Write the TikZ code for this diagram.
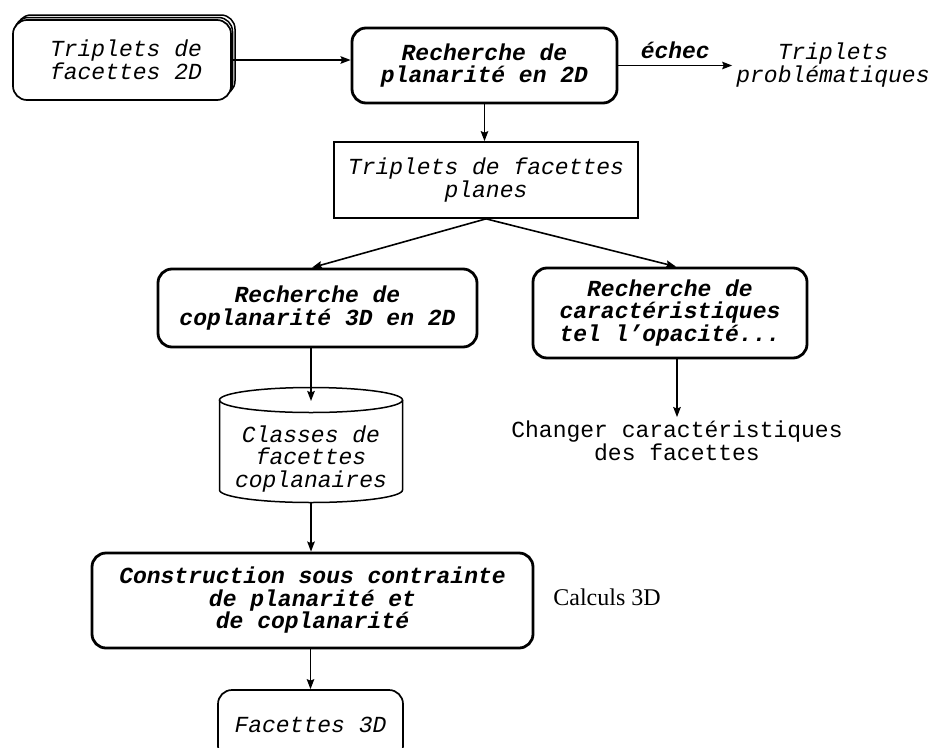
\documentclass[tikz,border=0pt]{standalone}
\usepackage{fontspec}
\setmainfont{Liberation Serif}
\setmonofont{Liberation Mono}
\usetikzlibrary{arrows.meta}
\newcommand\myfz{\fontsize{23}{22.5}\selectfont}
\tikzset{
  procbox/.style={draw, line width=2.8pt, rounded corners=14pt, align=center,
    inner sep=0pt, fill=white, font=\myfz\ttfamily\bfseries\itshape},
  databox/.style={draw, line width=1.7pt, rounded corners=14pt, align=center,
    inner sep=0pt, fill=white, font=\myfz\ttfamily\itshape},
  rectbox/.style={draw, line width=1.7pt, align=center, inner sep=0pt,
    font=\myfz\ttfamily\itshape},
  plaintxt/.style={align=center, inner sep=3pt, font=\myfz\ttfamily\itshape},
  arr/.style={line width=1.6pt, -{Stealth[length=10pt,width=7.5pt,inset=1.5pt]}}
}
\begin{document}
\begin{tikzpicture}[x=1pt,y=-1pt]
\useasboundingbox (0,0) rectangle (931,747);
\clip (0,0) rectangle (931,747);
\fill[white] (0,0) rectangle (931,747);

% stacked data box (back layers)
\draw[line width=1.5pt, rounded corners=14pt, fill=white] (17,15) rectangle (235,95);
\draw[line width=1.5pt, rounded corners=14pt, fill=white] (14.5,17.5) rectangle (232.5,97.5);
\node[databox, minimum width=218pt, minimum height=80pt] (tri) at (122,60)
  {\hspace*{8pt}Triplets de\\ \hspace*{8pt}facettes 2D};

\node[procbox, minimum width=265pt, minimum height=75pt] (main) at (484.5,65.5)
  {Recherche de\\planarité en 2D};

\node[plaintxt, inner sep=4pt] (prob) at (833,65) {Triplets\\problématiques};

\node[rectbox, minimum width=304pt, minimum height=76pt] (planes) at (486,180)
  {Triplets de facettes\\planes};

\node[procbox, minimum width=319pt, minimum height=78pt] (copl) at (317.5,308)
  {Recherche de\\coplanarité 3D en 2D};

\node[procbox, minimum width=274pt, minimum height=90pt] (carac) at (670,313)
  {Recherche de\\caractéristiques\\tel l’opacité...};

\node[plaintxt, font=\myfz\ttfamily, inner sep=4pt] (chg) at (677,441)
  {Changer caractéristiques\\des facettes};

% cylinder
\draw[line width=1.5pt] (219.5,400) -- (219.5,490)
  arc[start angle=180, end angle=360, x radius=91.5pt, y radius=12.5pt] -- (402.5,400);
\draw[line width=1.5pt] (311,400) ellipse [x radius=91.5pt, y radius=12.5pt];
\node[plaintxt] (cls) at (311,459) {Classes de\\facettes\\coplanaires};
\coordinate (cyltop) at (311,401);
\coordinate (cylbot) at (311,502.5);

\node[procbox, minimum width=441pt, minimum height=95pt] (cons) at (312.5,600.5)
  {Construction sous contrainte\\de planarité et\\de coplanarité};

\node[inner sep=0pt, font=\fontsize{24}{26}\selectfont\rmfamily] (calc) at (607,597) {Calculs 3D};

\node[databox, minimum width=185pt, minimum height=70pt] (f3d) at (310.5,725)
  {Facettes 3D};

% connectors
\draw[arr] (tri.east) -- (tri.east -| main.west);
\draw[arr] (main.east) -- (prob.west |- main.east)
  node[midway, above=6pt, font=\myfz\ttfamily\bfseries\itshape, inner sep=0pt] (ech) {échec};
\draw[arr] (main.south) -- (main.south |- planes.north);
\draw[arr] (planes.south) -- ([xshift=-5.5pt]copl.north);
\draw[arr] (planes.south) -- ([xshift=6pt]carac.north);
\draw[arr] (copl.south -| cyltop) -- (cyltop);
\draw[arr] (cylbot) -- (cons.north -| cylbot);
\draw[arr] ([xshift=7pt]carac.south) -- ([xshift=7pt]carac.south |- chg.north);
\draw[arr] (cons.south -| f3d.north) -- (f3d.north);
\end{tikzpicture}
\end{document}
